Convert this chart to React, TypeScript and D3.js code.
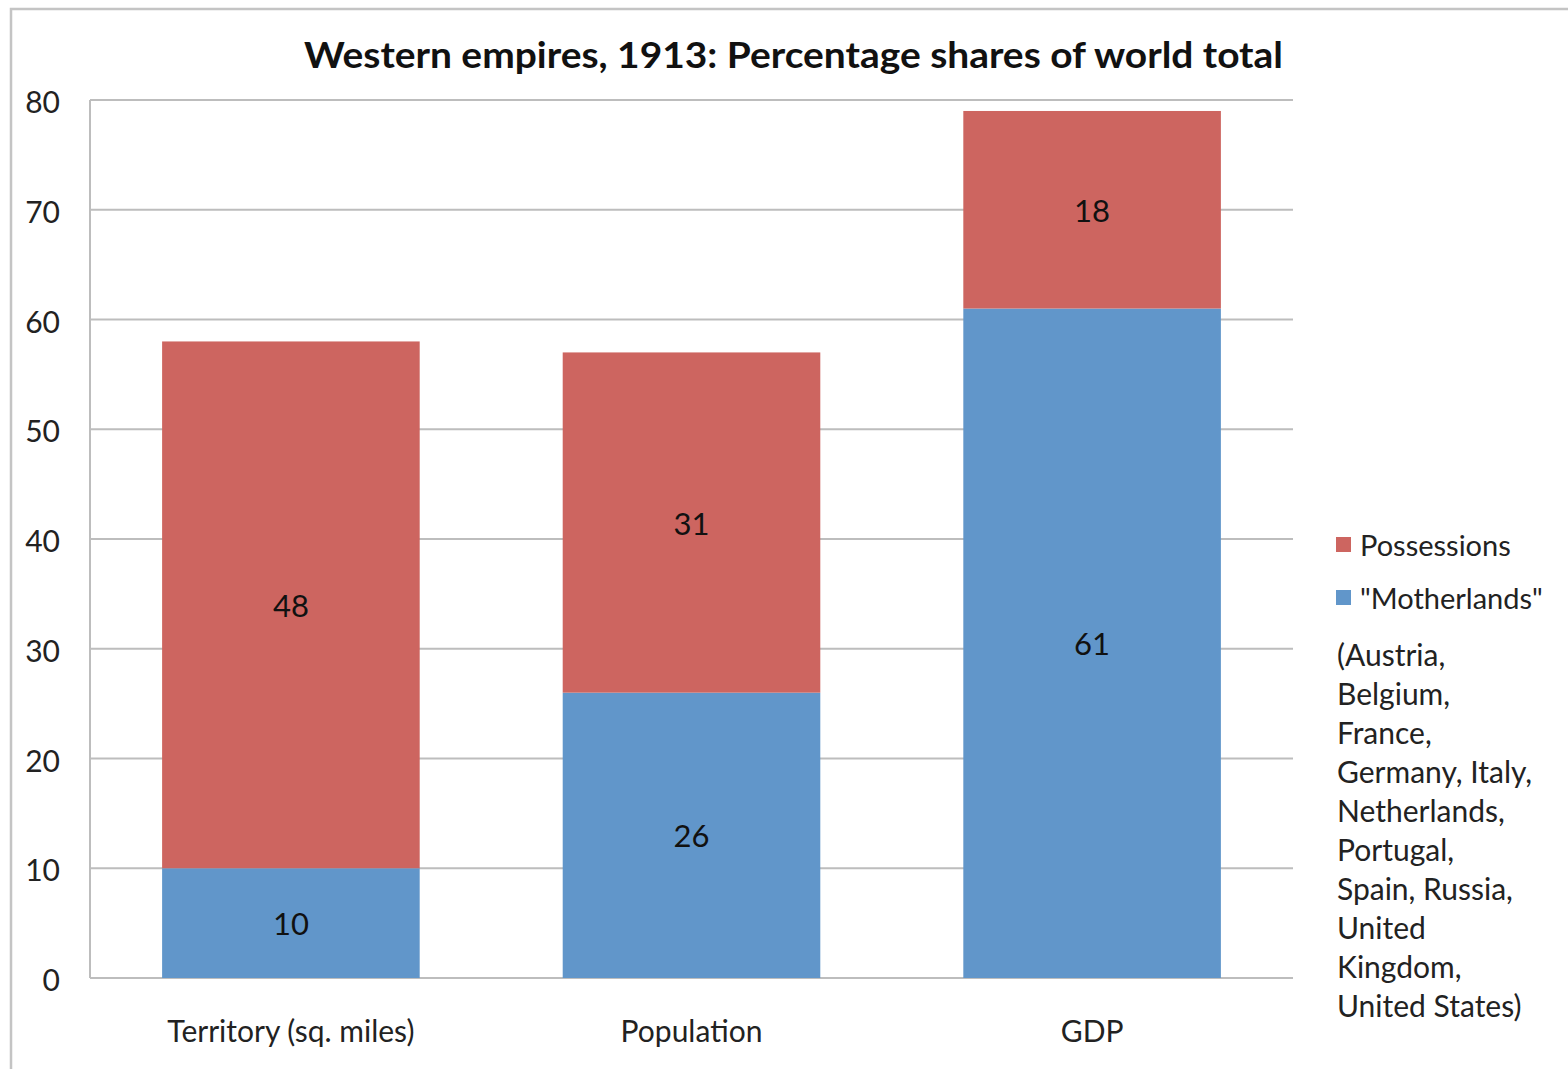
import React from "react";
import * as d3 from "d3";

const categories = ["Territory (sq. miles)", "Population", "GDP"];
const motherlands = [10, 26, 61];
const possessions = [48, 31, 18];
const seriesNames = ["\"Motherlands\"", "Possessions"];
const yTicks = [0, 10, 20, 30, 40, 50, 60, 70, 80];
const noteLines = [
  "(Austria,",
  "Belgium,",
  "France,",
  "Germany, Italy,",
  "Netherlands,",
  "Portugal,",
  "Spain, Russia,",
  "United",
  "Kingdom,",
  "United States)",
];
const title = "Western empires, 1913: Percentage shares of world total";

const W = 1568;
const H = 1069;
const FONT = "Lato, 'Open Sans', sans-serif";
const BLUE = "#6196ca";
const RED = "#cd6560";
const FS = 30;

export default function App() {
  const x = d3
    .scaleBand<string>()
    .domain(categories)
    .range([90, 1293])
    .paddingInner(0.357)
    .paddingOuter(0.18);
  const y = d3.scaleLinear().domain([0, 80]).range([978, 100]);

  const rows = categories.map((c, i) => ({
    cat: c,
    m: motherlands[i],
    p: possessions[i],
  }));
  const stack = d3.stack<any>().keys(["m", "p"])(rows);
  const colors = [BLUE, RED];

  return (
    <svg
      width={W}
      height={H}
      style={{ position: "absolute", left: 0, top: 0, background: "#fff" }}
      fontFamily={FONT}
    >
      <rect x={0} y={0} width={W} height={H} fill="#fff" />
      {/* outer border */}
      <path d={`M11,${H} L11,9 L${W},9`} fill="none" stroke="#c4c4c4" strokeWidth={2.5} />

      {/* title */}
      <text
        x={793.5}
        y={68}
        textAnchor="middle"
        fontWeight="bold"
        fontSize={37}
        fill="#111"
        textLength={979}
        lengthAdjust="spacingAndGlyphs"
      >
        {title}
      </text>

      {/* gridlines */}
      {yTicks.map((t) => (
        <line
          key={t}
          x1={90}
          x2={1293}
          y1={y(t)}
          y2={y(t)}
          stroke="#bdbdbd"
          strokeWidth={2}
        />
      ))}
      <line x1={90} x2={90} y1={y(80)} y2={y(0)} stroke="#bdbdbd" strokeWidth={2} />

      {/* y tick labels */}
      {yTicks.map((t) => (
        <text
          key={t}
          x={60}
          y={y(t) + 13}
          textAnchor="end"
          fontSize={FS}
          fill="#222"
        >
          {t}
        </text>
      ))}

      {/* bars */}
      {stack.map((layer, li) =>
        layer.map((d, i) => (
          <rect
            key={`${li}-${i}`}
            x={x(categories[i])}
            width={x.bandwidth()}
            y={y(d[1])}
            height={y(d[0]) - y(d[1])}
            fill={colors[li]}
          />
        ))
      )}

      {/* data labels */}
      {stack.map((layer, li) =>
        layer.map((d, i) => (
          <text
            key={`l${li}-${i}`}
            x={(x(categories[i]) as number) + x.bandwidth() / 2}
            y={y((d[0] + d[1]) / 2) + 12}
            textAnchor="middle"
            fontSize={31}
            fill="#111"
          >
            {d[1] - d[0]}
          </text>
        ))
      )}

      {/* x labels */}
      {categories.map((c) => (
        <text
          key={c}
          x={(x(c) as number) + x.bandwidth() / 2}
          y={1042}
          textAnchor="middle"
          fontSize={FS}
          fill="#222"
        >
          {c}
        </text>
      ))}

      {/* legend */}
      <rect x={1336} y={537} width={15} height={15} fill={RED} />
      <text x={1360} y={556} fontSize={FS - 1} fill="#222">
        {seriesNames[1]}
      </text>
      <rect x={1336} y={590} width={15} height={15} fill={BLUE} />
      <text x={1360} y={609} fontSize={FS - 1} fill="#222">
        {seriesNames[0]}
      </text>
      {noteLines.map((l, i) => (
        <text key={l} x={1337} y={666 + i * 39} fontSize={FS} fill="#222">
          {l}
        </text>
      ))}
    </svg>
  );
}
